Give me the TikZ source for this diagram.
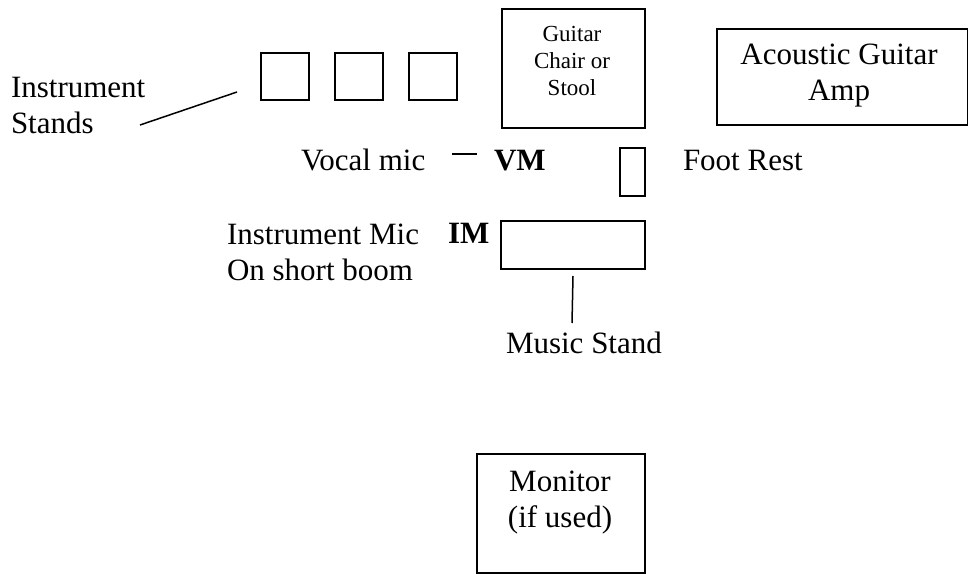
\documentclass[tikz,border=0pt]{standalone}
\usepackage{fontspec}
\setmainfont{Liberation Serif}
\usetikzlibrary{positioning}

\begin{document}
\begin{tikzpicture}[x=0.5pt, y=-0.5pt, line width=1pt,
  box/.style={draw, inner sep=0pt, anchor=north west},
  lbl/.style={inner sep=0pt, anchor=base west, font=\fontsize{15.5}{18}\selectfont},
  small/.style={inner sep=0pt, align=center, font=\fontsize{11.5}{13.3}\selectfont}]
\useasboundingbox (0,0) rectangle (968,573);
% instrument stands
\node[box, minimum width=24pt, minimum height=23.5pt] (stand1) at (260,52) {};
\node[box, minimum width=24pt, minimum height=23.5pt, right=12pt of stand1.north east, anchor=north west] (stand2) {};
\node[box, minimum width=24pt, minimum height=23.5pt, right=12pt of stand2.north east, anchor=north west] (stand3) {};
\node[lbl, align=left] (standslbl) at (10,133) {Instrument\\Stands};
\coordinate (standsfrom) at (140,125);
\coordinate (standsto) at (237,92);
\draw[line width=0.75pt] (standsfrom) -- (standsto);
% chair and amp
\node[box, minimum width=71.5pt, minimum height=59.5pt] (chair) at (501,8) {};
\node[small, anchor=base] (chairlbl) at (572,95) {Guitar\\Chair or\\Stool};
\node[box, minimum width=125.5pt, minimum height=48pt] (amp) at (716,28) {};
\node[lbl, align=center, anchor=base] (amplbl) at (839,100) {Acoustic Guitar\\Amp};
% vocal mic and foot rest
\node[lbl] (vocal) at (300,170) {Vocal mic};
\node[lbl, font=\fontsize{15.5}{18}\selectfont\bfseries] (vm) at (493,170) {VM};
\coordinate (dashl) at (452,154);
\coordinate (dashr) at (477,154);
\draw[line width=0.75pt] (dashl) -- (dashr);
\node[box, minimum width=12.5pt, minimum height=24pt] (footrest) at (619,147) {};
\node[lbl] (footlbl) at (682,170) {Foot Rest};
% instrument mic and music stand
\node[lbl, align=left] (imlbl) at (226,280) {Instrument Mic\\On short boom};
\node[lbl, font=\fontsize{15.5}{18}\selectfont\bfseries] (im) at (447,243) {IM};
\node[box, minimum width=72pt, minimum height=24pt] (musicstand) at (500,220) {};
\coordinate (mstip) at (572,323);
\draw[line width=0.75pt] ([yshift=-3pt]musicstand.south) -- (mstip);
\node[lbl] (mslbl) at (505,353) {Music Stand};
% monitor
\node[box, minimum width=84pt, minimum height=59.5pt] (monitor) at (476,453) {};
\node[lbl, align=center, anchor=base] (monlbl) at (560,527) {Monitor\\(if used)};
\end{tikzpicture}
\end{document}
